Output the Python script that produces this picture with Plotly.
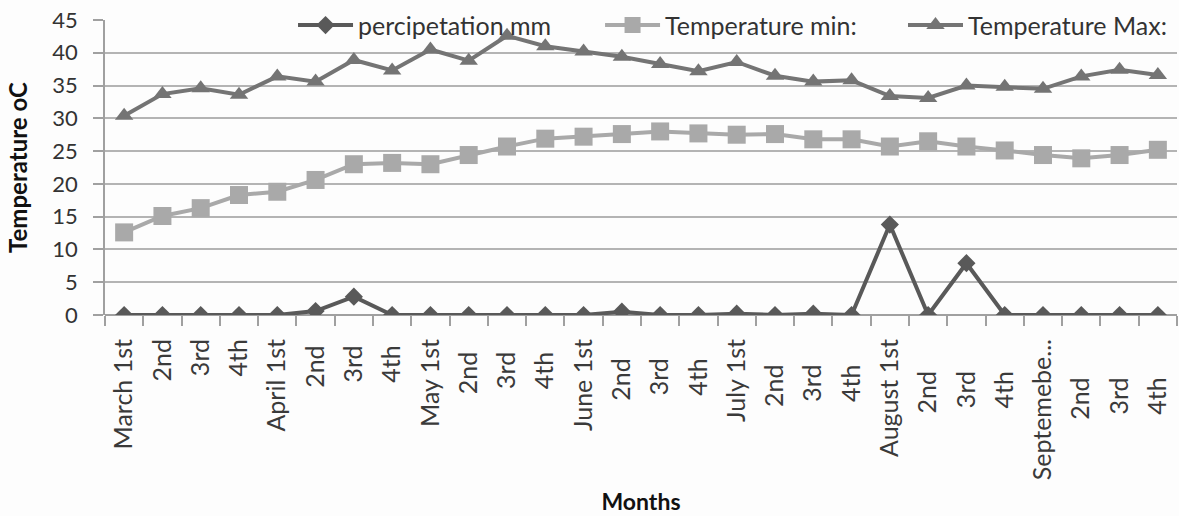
import plotly.graph_objects as go

categories = ["March 1st", "2nd", "3rd", "4th", "April 1st", "2nd ", "3rd ", "4th ",
              "May 1st", "2nd  ", "3rd  ", "4th  ", "June 1st", "2nd   ", "3rd   ", "4th   ",
              "July 1st", "2nd    ", "3rd    ", "4th    ", "August 1st", "2nd     ", "3rd     ", "4th     ",
              "Septemebe...", "2nd      ", "3rd      ", "4th      "]

precipitation = [0, 0, 0, 0, 0, 0.6, 2.8, 0, 0, 0, 0, 0, 0, 0.5, 0, 0,
                 0.2, 0, 0.2, 0, 13.8, 0, 7.9, 0, 0, 0, 0, 0]
temp_min = [12.6, 15.1, 16.3, 18.3, 18.8, 20.6, 23.0, 23.2, 23.0, 24.4, 25.7, 26.9,
            27.2, 27.6, 28.0, 27.7, 27.5, 27.6, 26.8, 26.8, 25.7, 26.5, 25.7, 25.1,
            24.4, 23.9, 24.4, 25.2]
temp_max = [30.4, 33.7, 34.6, 33.6, 36.4, 35.6, 38.9, 37.3, 40.5, 38.8, 42.6, 41.0,
            40.2, 39.4, 38.3, 37.2, 38.6, 36.5, 35.6, 35.8, 33.4, 33.1, 35.0, 34.8,
            34.5, 36.4, 37.4, 36.6]

y_ticks = [0, 5, 10, 15, 20, 25, 30, 35, 40, 45]

FONT = "Lato"

fig = go.Figure()
fig.add_trace(go.Scatter(
    x=categories, y=precipitation, name="percipetation mm", mode="lines+markers",
    line=dict(color="#595959", width=4), legend="legend",
    marker=dict(symbol="diamond", size=14, color="#595959")))
fig.add_trace(go.Scatter(
    x=categories, y=temp_min, name="Temperature min:", mode="lines+markers",
    line=dict(color="#a9a9a9", width=4), legend="legend2",
    marker=dict(symbol="square", size=18, color="#a9a9a9")))
fig.add_trace(go.Scatter(
    x=categories, y=temp_max, name="Temperature Max:", mode="lines+markers",
    line=dict(color="#747474", width=4), legend="legend3",
    marker=dict(symbol="triangle-up", size=16, color="#747474")))

leg_common = dict(orientation="h", y=0.982, xanchor="left", yanchor="middle",
                  bgcolor="rgba(0,0,0,0)", font=dict(size=25, color="#333333"),
                  itemwidth=55, borderwidth=0)

fig.update_layout(
    width=1179, height=516,
    margin=dict(l=105, r=2, t=20, b=201),
    paper_bgcolor="#fdfdfd", plot_bgcolor="#fdfdfd",
    font=dict(family=FONT, size=24, color="#3a3a3a"),
    showlegend=True,
    legend=dict(x=0.1754, **leg_common),
    legend2=dict(x=0.4618, **leg_common),
    legend3=dict(x=0.7444, **leg_common),
    xaxis=dict(
        type="category", tickangle=-90, tickson="boundaries",
        ticks="outside", ticklen=10, tickcolor="#a0a0a0", tickwidth=1.5,
        showline=False, showgrid=False, zeroline=False,
        tickfont=dict(size=25, color="#3a3a3a"),
        ticklabelstandoff=18,
        title=dict(text="<b>Months</b>", font=dict(size=23, color="#111111"), standoff=14),
        range=[-0.5, len(categories) - 0.5],
    ),
    yaxis=dict(
        range=[0, 45], tickvals=y_ticks, ticks="outside", ticklen=10, tickcolor="#a0a0a0",
        tickwidth=1.5,
        showgrid=True, gridcolor="#b4b4b4", gridwidth=1.5,
        showline=True, linecolor="#a0a0a0", linewidth=1.5,
        zeroline=True, zerolinecolor="#a0a0a0", zerolinewidth=1.5,
        tickfont=dict(size=22, color="#333333"),
        ticklabelstandoff=11,
        title=dict(text="<b>Temperature oC</b>", font=dict(size=24, color="#111111"), standoff=18),
    ),
)

fig.write_html("out.html")
